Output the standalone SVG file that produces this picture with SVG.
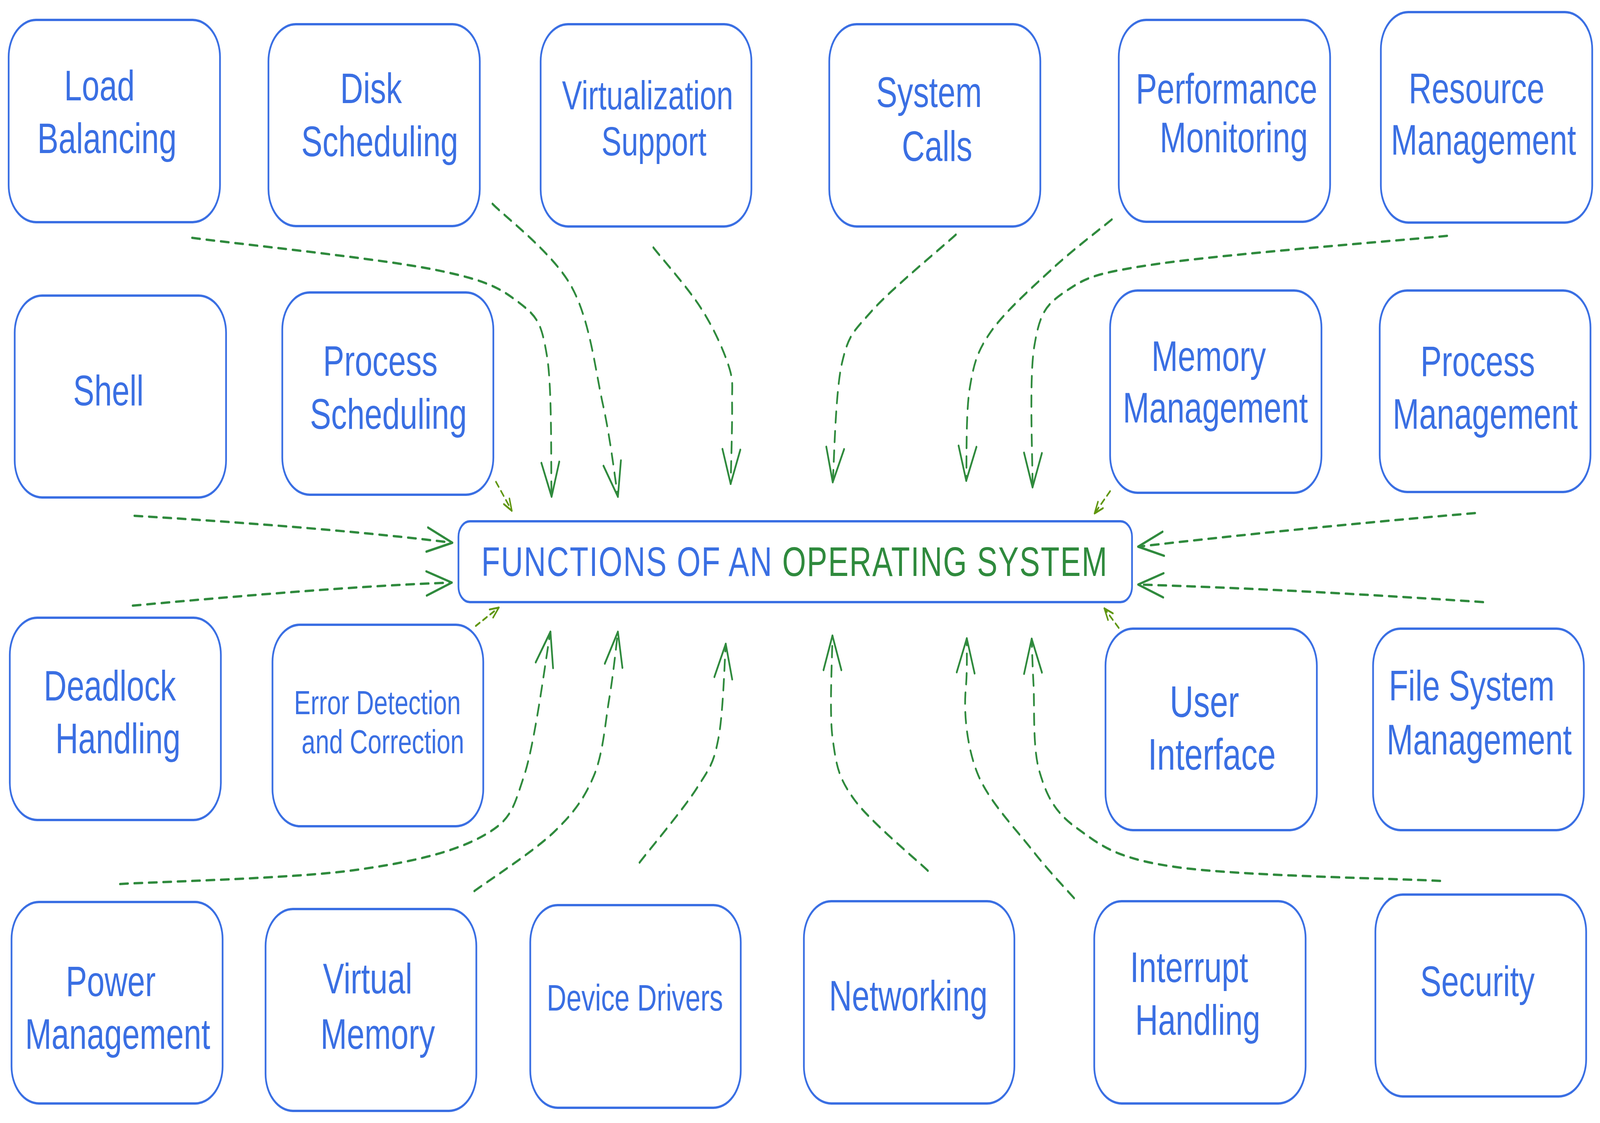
<svg xmlns="http://www.w3.org/2000/svg" width="5549" height="2876" viewBox="0 0 5549 2876" preserveAspectRatio="none">
<style>
svg{width:100vw;height:100vh}
.node rect{fill:#ffffff;stroke:#3a6fe3;stroke-width:6}
.node text{font-family:"Liberation Sans",Arial,sans-serif;font-size:110px;fill:#3a6fe3;text-anchor:middle}
.conn path{fill:none;stroke:#2f8a3d;stroke-width:6;stroke-linecap:round;stroke-dasharray:28 22;marker-end:url(#ah)}
.conn path.short{stroke:#5f960e;stroke-width:5;stroke-dasharray:16 13;marker-end:url(#ahs)}
</style>
<defs>
<marker id="ah" markerUnits="userSpaceOnUse" viewBox="-100 -40 110 80" markerWidth="110" markerHeight="80" refX="0" refY="0" orient="auto" overflow="visible">
<path d="M-88,-31 L0,0 L-88,31" fill="none" stroke="#2f8a3d" stroke-width="6" stroke-linecap="round" stroke-linejoin="round"/>
</marker>
<marker id="ahs" markerUnits="userSpaceOnUse" viewBox="-40 -20 50 40" markerWidth="50" markerHeight="40" refX="0" refY="0" orient="auto" overflow="visible">
<path d="M-30,-12 L0,0 L-30,12" fill="none" stroke="#5f960e" stroke-width="5" stroke-linecap="round" stroke-linejoin="round"/>
</marker>
</defs>
<rect x="0" y="0" width="5549" height="2876" fill="#ffffff"/>

<g id="connectors" class="conn">
<path id="c-load" d="M666,609 C806,623 1314,662 1503,690 C1692,718 1734,738 1800,775 C1866,812 1878,829 1897,912 C1916,995 1910,1212 1913,1272"/>
<path id="c-disk" d="M1708,522 C1754,557 1918,648 1982,734 C2046,820 2064,946 2091,1036 C2118,1126 2134,1233 2143,1272"/>
<path id="c-virt" d="M2266,634 C2293,660 2386,737 2430,788 C2474,838 2509,896 2527,937 C2545,978 2538,986 2539,1036 C2540,1086 2535,1205 2534,1239"/>
<path id="c-sys" d="M3315,601 C3266,634 3090,741 3024,796 C2958,851 2943,857 2920,930 C2897,1003 2893,1184 2888,1235"/>
<path id="c-perf" d="M3856,562 C3822,583 3720,640 3650,688 C3580,736 3484,799 3436,850 C3388,901 3377,932 3363,995 C3349,1058 3353,1192 3351,1231"/>
<path id="c-res" d="M5019,604 C4851,616 4234,652 4013,676 C3792,700 3767,711 3696,746 C3625,781 3606,803 3587,887 C3568,971 3582,1188 3581,1248"/>
<path id="c-shell" d="M466,1321 C900,1340 1300,1365 1569,1390"/>
<path id="c-dead" d="M460,1551 C850,1525 1250,1500 1567,1492"/>
<path id="c-power" d="M416,2264 C549,2258 1003,2250 1212,2230 C1421,2210 1571,2183 1672,2142 C1773,2101 1779,2073 1818,1986 C1857,1898 1894,1679 1909,1618"/>
<path id="c-vmem" d="M1645,2282 C1691,2257 1852,2180 1921,2131 C1990,2082 2028,2043 2060,1986 C2092,1929 2099,1850 2113,1789 C2127,1728 2138,1647 2143,1618"/>
<path id="c-dev" d="M2218,2209 C2251,2177 2373,2070 2418,2017 C2464,1964 2475,1954 2491,1893 C2508,1832 2513,1690 2517,1649"/>
<path id="c-net" d="M3218,2230 C3176,2200 3018,2104 2963,2048 C2908,1992 2901,1963 2888,1893 C2875,1830 2887,1672 2887,1628"/>
<path id="c-int" d="M3725,2300 C3701,2280 3636,2230 3581,2178 C3526,2126 3432,2054 3393,1986 C3354,1918 3342,1827 3349,1768 C3356,1709 3352,1657 3353,1635"/>
<path id="c-sec" d="M4995,2256 C4842,2250 4284,2243 4074,2220 C3864,2198 3813,2162 3735,2121 C3657,2080 3630,2038 3605,1976 C3580,1914 3589,1805 3584,1748 C3580,1691 3579,1655 3578,1636"/>
<path id="c-pman" d="M5116,1314 C4700,1340 4300,1370 3947,1400"/>
<path id="c-fs" d="M5144,1542 C4700,1520 4300,1505 3947,1497"/>
<path id="c-psched" class="short" d="M1720,1234 L1775,1308"/>
<path id="c-err" class="short" d="M1650,1603 L1730,1556"/>
<path id="c-mem" class="short" d="M3850,1258 L3796,1315"/>
<path id="c-ui" class="short" d="M3880,1608 L3830,1558"/>
</g>

<g id="n-center" class="node">
<rect x="1590" y="1335" width="2336" height="207" rx="40" ry="40"/>
<text x="2756" y="1475" style="font-size:106px;letter-spacing:3px"><tspan fill="#3a6fe3">FUNCTIONS OF AN </tspan><tspan fill="#2f8a3d">OPERATING SYSTEM</tspan></text>
</g>

<g id="n-load-balancing" class="node">
<rect x="30" y="51" width="733" height="518" rx="95" ry="95"/>
<text x="345" y="257">Load</text>
<text x="371" y="392">Balancing</text>
</g>
<g id="n-disk-scheduling" class="node">
<rect x="931" y="62" width="733" height="517" rx="95" ry="95"/>
<text x="1287" y="264">Disk</text>
<text x="1317" y="400">Scheduling</text>
</g>
<g id="n-virtualization-support" class="node">
<rect x="1875" y="62" width="731" height="518" rx="95" ry="95"/>
<text x="2246" y="280" style="font-size:104px">Virtualization</text>
<text x="2268" y="398" style="font-size:104px">Support</text>
</g>
<g id="n-system-calls" class="node">
<rect x="2876" y="62" width="732" height="518" rx="95" ry="95"/>
<text x="3222" y="274">System</text>
<text x="3250" y="412">Calls</text>
</g>
<g id="n-performance-monitoring" class="node">
<rect x="3880" y="51" width="733" height="517" rx="95" ry="95"/>
<text x="4254" y="265">Performance</text>
<text x="4279" y="390">Monitoring</text>
</g>
<g id="n-resource-management" class="node">
<rect x="4789" y="31" width="733" height="539" rx="95" ry="95"/>
<text x="5121" y="264">Resource</text>
<text x="5145" y="396">Management</text>
</g>
<g id="n-shell" class="node">
<rect x="51" y="757" width="733" height="517" rx="95" ry="95"/>
<text x="376" y="1038">Shell</text>
</g>
<g id="n-process-scheduling" class="node">
<rect x="979" y="749" width="732" height="518" rx="95" ry="95"/>
<text x="1319" y="962">Process</text>
<text x="1347" y="1098">Scheduling</text>
</g>
<g id="n-memory-management" class="node">
<rect x="3850" y="744" width="733" height="518" rx="95" ry="95"/>
<text x="4192" y="950">Memory</text>
<text x="4215" y="1082">Management</text>
</g>
<g id="n-process-management" class="node">
<rect x="4785" y="744" width="731" height="516" rx="95" ry="95"/>
<text x="5125" y="963">Process</text>
<text x="5151" y="1098">Management</text>
</g>
<g id="n-deadlock-handling" class="node">
<rect x="34" y="1582" width="732" height="518" rx="95" ry="95"/>
<text x="381" y="1794">Deadlock</text>
<text x="409" y="1929">Handling</text>
</g>
<g id="n-error-detection" class="node">
<rect x="945" y="1600" width="731" height="516" rx="95" ry="95"/>
<text x="1309" y="1829" style="font-size:86px">Error Detection</text>
<text x="1328" y="1929" style="font-size:86px">and Correction</text>
</g>
<g id="n-user-interface" class="node">
<rect x="3834" y="1610" width="733" height="516" rx="95" ry="95"/>
<text x="4177" y="1836" style="font-size:114px">User</text>
<text x="4203" y="1971" style="font-size:114px">Interface</text>
</g>
<g id="n-file-system-management" class="node">
<rect x="4762" y="1610" width="731" height="516" rx="95" ry="95"/>
<text x="5104" y="1794">File System</text>
<text x="5130" y="1932">Management</text>
</g>
<g id="n-power-management" class="node">
<rect x="40" y="2310" width="732" height="516" rx="95" ry="95"/>
<text x="384" y="2551">Power</text>
<text x="408" y="2686">Management</text>
</g>
<g id="n-virtual-memory" class="node">
<rect x="921" y="2328" width="731" height="517" rx="95" ry="95"/>
<text x="1275" y="2544">Virtual</text>
<text x="1310" y="2686">Memory</text>
</g>
<g id="n-device-drivers" class="node">
<rect x="1839" y="2318" width="730" height="519" rx="95" ry="95"/>
<text x="2202" y="2588" style="font-size:94px">Device Drivers</text>
</g>
<g id="n-networking" class="node">
<rect x="2788" y="2308" width="730" height="518" rx="95" ry="95"/>
<text x="3150" y="2588">Networking</text>
</g>
<g id="n-interrupt-handling" class="node">
<rect x="3795" y="2308" width="733" height="518" rx="95" ry="95"/>
<text x="4124" y="2515">Interrupt</text>
<text x="4154" y="2650">Handling</text>
</g>
<g id="n-security" class="node">
<rect x="4770" y="2291" width="731" height="517" rx="95" ry="95"/>
<text x="5124" y="2551">Security</text>
</g>
</svg>
